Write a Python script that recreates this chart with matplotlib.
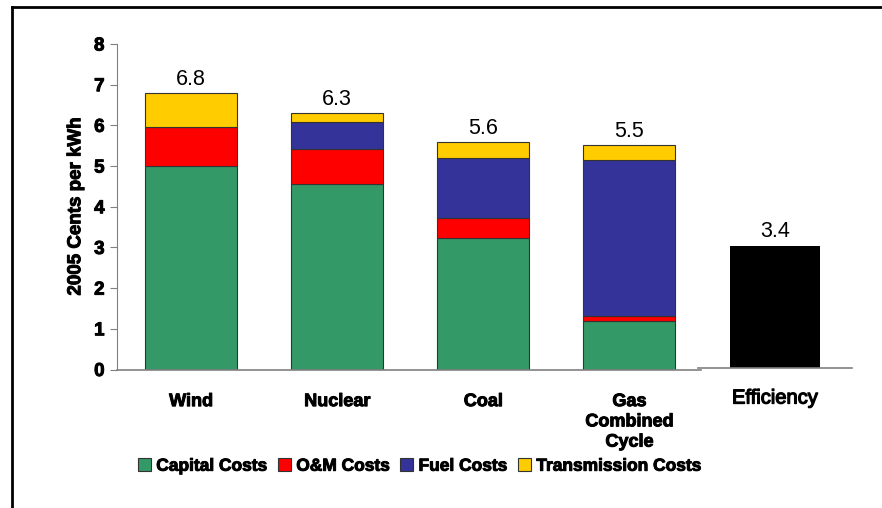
import numpy as np
import matplotlib.pyplot as plt
import matplotlib.patheffects as pe
from matplotlib.patches import Patch
from matplotlib.lines import Line2D

plt.rcParams['font.family'] = ['Liberation Sans', 'DejaVu Sans']

categories = ['Wind', 'Nuclear', 'Coal', 'Gas\nCombined\nCycle']
capital = [5.0, 4.55, 3.23, 1.19]
om = [0.96, 0.86, 0.50, 0.12]
fuel = [0.0, 0.67, 1.47, 3.84]
transmission = [0.84, 0.23, 0.38, 0.36]
totals_label = ['6.8', '6.3', '5.6', '5.5']

eff_name = 'Efficiency'
eff_value = 3.0
eff_label = '3.4'

series_names = ['Capital Costs', 'O&M Costs', 'Fuel Costs', 'Transmission Costs']
colors = ['#339966', '#ff0000', '#333399', '#ffcc00']

heavy = [pe.withStroke(linewidth=0.7, foreground='black')]

W, H = 882, 508
fig = plt.figure(figsize=(W / 100, H / 100), dpi=100)

# main stacked chart
ax = fig.add_axes([117 / W, (H - 369.5) / H, 584 / W, 325.5 / H])
x = np.arange(len(categories))
bottom = np.zeros(len(categories))
for vals, col in zip([capital, om, fuel, transmission], colors):
    vals = np.array(vals)
    ax.bar(x, vals, width=0.63, bottom=bottom, color=col,
           edgecolor='#333333', linewidth=0.8, zorder=2)
    bottom += vals
for xi, top, lab in zip(x, bottom, totals_label):
    ax.text(xi, top + 0.08, lab, ha='center', va='bottom', fontsize=15.5)

ax.set_xlim(-0.507, 3.49)
ax.set_ylim(0, 8)
ax.set_yticks(range(0, 9))
ax.tick_params(axis='y', direction='out', length=5, color='#808080',
               labelsize=13.5, pad=4)
for t in ax.get_yticklabels():
    t.set_fontweight('bold')
    t.set_path_effects(heavy)
ax.set_xticks(x)
ax.set_xticklabels(categories, fontsize=13, fontweight='bold', linespacing=1.25,
                   path_effects=heavy)
ax.tick_params(axis='x', length=0, pad=17)
for s in ['top', 'right']:
    ax.spines[s].set_visible(False)
ax.spines['left'].set_color('#808080')
ax.spines['bottom'].set_color('#808080')
ax.spines['bottom'].set_linewidth(1.2)
ax.set_ylabel('2005 Cents per kWh', fontsize=13.5, fontweight='bold', labelpad=7,
              path_effects=heavy)

# efficiency bar on its own small axes
ax2 = fig.add_axes([698 / W, (H - 367.7) / H, 154 / W, 325.5 / H])
ax2.bar([0], [eff_value], width=0.59, color='black', zorder=2)
ax2.text(0, eff_value + 0.08, eff_label, ha='center', va='bottom', fontsize=15.5)
ax2.set_xlim(-0.5, 0.5)
ax2.set_ylim(0, 8)
ax2.set_yticks([])
ax2.set_xticks([0])
ax2.set_xticklabels([eff_name], fontsize=14.5,
                    path_effects=[pe.withStroke(linewidth=0.9, foreground='black')])
ax2.tick_params(axis='x', length=0, pad=15)
for s in ['top', 'right', 'left']:
    ax2.spines[s].set_visible(False)
ax2.spines['bottom'].set_color('#808080')
ax2.spines['bottom'].set_linewidth(1.2)
ax2.patch.set_alpha(0)

handles = [Patch(facecolor=c, edgecolor='#333333', linewidth=0.8) for c in colors]
leg = fig.legend(handles, series_names, loc='center',
                 bbox_to_anchor=(420 / W, (H - 466) / H),
                 ncol=4, frameon=False, handlelength=0.75, handleheight=0.75,
                 handletextpad=0.3, columnspacing=0.6,
                 prop={'weight': 'bold', 'size': 12.5})
for t in leg.get_texts():
    t.set_path_effects(heavy)

# frame lines at top and left
fig.add_artist(Line2D([12 / W, 1], [(H - 7) / H, (H - 7) / H], color='black', lw=2))
fig.add_artist(Line2D([12 / W, 12 / W], [0, (H - 7) / H], color='black', lw=2))

fig.savefig('out.png', dpi=100)
